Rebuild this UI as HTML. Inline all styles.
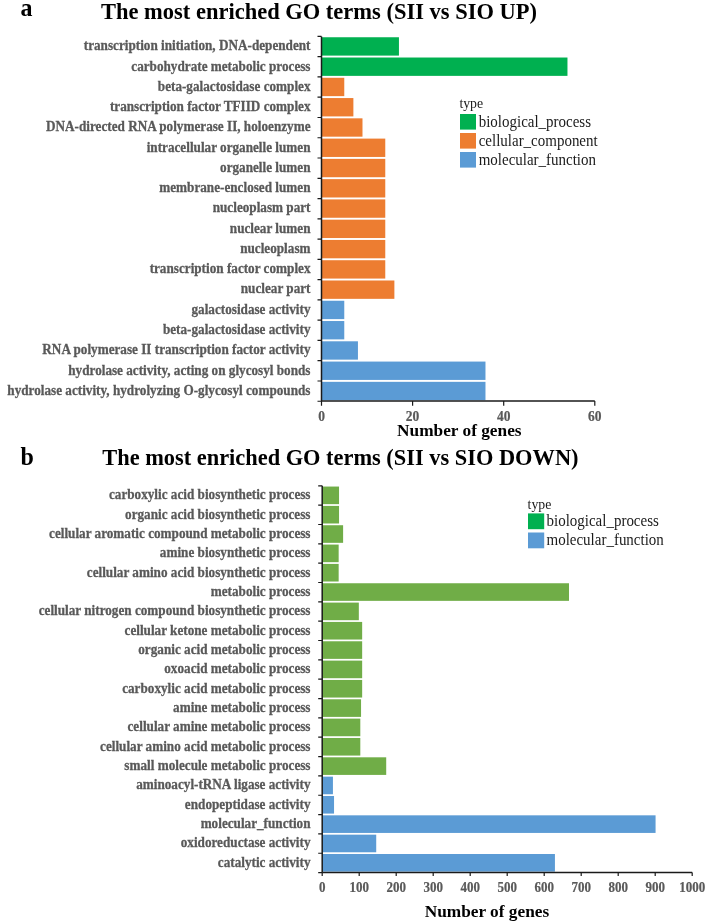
<!DOCTYPE html>
<html><head><meta charset="utf-8"><style>
html,body{margin:0;padding:0;background:#fff;}
body{width:710px;height:924px;overflow:hidden;}
svg{display:block;will-change:transform;}
text{font-family:"Liberation Serif",serif;}
.yl{font-size:13.2px;font-weight:bold;fill:#595959;text-anchor:end;stroke:#595959;stroke-width:0.25px;}
.xl{font-weight:bold;fill:#595959;text-anchor:middle;stroke:#595959;stroke-width:0.2px;}
.ttl{font-weight:bold;fill:#000;}
.lg{font-size:15px;fill:#1a1a1a;}
</style></head><body>
<svg width="710" height="924" viewBox="0 0 710 924">
<rect width="710" height="924" fill="#fff"/>
<text transform="translate(20.5 15.6) scale(1 1.08)" class="ttl" style="font-size:24px">a</text>
<text transform="translate(101 18.6) scale(1 1.03)" class="ttl" style="font-size:22.5px">The most enriched GO terms (SII vs SIO UP)</text>
<text transform="translate(20.5 464.8) scale(1 1.05)" class="ttl" style="font-size:24px">b</text>
<text transform="translate(102.3 465.3) scale(1 1.03)" class="ttl" style="font-size:22.4px">The most enriched GO terms (SII vs SIO DOWN)</text>
<rect x="321.5" y="37.25" width="77.44" height="18.35" fill="#00B050"/>
<rect x="321.5" y="57.52" width="245.97" height="18.35" fill="#00B050"/>
<rect x="321.5" y="77.79" width="22.77" height="18.35" fill="#ED7D31"/>
<rect x="321.5" y="98.06" width="31.88" height="18.35" fill="#ED7D31"/>
<rect x="321.5" y="118.33" width="40.99" height="18.35" fill="#ED7D31"/>
<rect x="321.5" y="138.6" width="63.77" height="18.35" fill="#ED7D31"/>
<rect x="321.5" y="158.87" width="63.77" height="18.35" fill="#ED7D31"/>
<rect x="321.5" y="179.14" width="63.77" height="18.35" fill="#ED7D31"/>
<rect x="321.5" y="199.41" width="63.77" height="18.35" fill="#ED7D31"/>
<rect x="321.5" y="219.68" width="63.77" height="18.35" fill="#ED7D31"/>
<rect x="321.5" y="239.95" width="63.77" height="18.35" fill="#ED7D31"/>
<rect x="321.5" y="260.22" width="63.77" height="18.35" fill="#ED7D31"/>
<rect x="321.5" y="280.49" width="72.88" height="18.35" fill="#ED7D31"/>
<rect x="321.5" y="300.76" width="22.77" height="18.35" fill="#5B9BD5"/>
<rect x="321.5" y="321.03" width="22.77" height="18.35" fill="#5B9BD5"/>
<rect x="321.5" y="341.3" width="36.44" height="18.35" fill="#5B9BD5"/>
<rect x="321.5" y="361.57" width="163.98" height="18.35" fill="#5B9BD5"/>
<rect x="321.5" y="381.84" width="163.98" height="18.35" fill="#5B9BD5"/>
<text transform="translate(310.5 50.23) scale(1 1.1)" class="yl">transcription initiation, DNA-dependent</text>
<text transform="translate(310.5 70.51) scale(1 1.1)" class="yl">carbohydrate metabolic process</text>
<text transform="translate(310.5 90.77) scale(1 1.1)" class="yl">beta-galactosidase complex</text>
<text transform="translate(310.5 111.05) scale(1 1.1)" class="yl">transcription factor TFIID complex</text>
<text transform="translate(310.5 131.31) scale(1 1.1)" class="yl">DNA-directed RNA polymerase II, holoenzyme</text>
<text transform="translate(310.5 151.58) scale(1 1.1)" class="yl">intracellular organelle lumen</text>
<text transform="translate(310.5 171.85) scale(1 1.1)" class="yl">organelle lumen</text>
<text transform="translate(310.5 192.12) scale(1 1.1)" class="yl">membrane-enclosed lumen</text>
<text transform="translate(310.5 212.39) scale(1 1.1)" class="yl">nucleoplasm part</text>
<text transform="translate(310.5 232.66) scale(1 1.1)" class="yl">nuclear lumen</text>
<text transform="translate(310.5 252.94) scale(1 1.1)" class="yl">nucleoplasm</text>
<text transform="translate(310.5 273.2) scale(1 1.1)" class="yl">transcription factor complex</text>
<text transform="translate(310.5 293.47) scale(1 1.1)" class="yl">nuclear part</text>
<text transform="translate(310.5 313.74) scale(1 1.1)" class="yl">galactosidase activity</text>
<text transform="translate(310.5 334.01) scale(1 1.1)" class="yl">beta-galactosidase activity</text>
<text transform="translate(310.5 354.28) scale(1 1.1)" class="yl">RNA polymerase II transcription factor activity</text>
<text transform="translate(310.5 374.55) scale(1 1.1)" class="yl">hydrolase activity, acting on glycosyl bonds</text>
<text transform="translate(310.5 394.82) scale(1 1.1)" class="yl">hydrolase activity, hydrolyzing O-glycosyl compounds</text>
<path d="M321.5 36.4V401" stroke="#1a1a1a" stroke-width="1.5" fill="none"/>
<path d="M317.5 36.4H321.5M317.5 56.67H321.5M317.5 76.94H321.5M317.5 97.21H321.5M317.5 117.48H321.5M317.5 137.75H321.5M317.5 158.02H321.5M317.5 178.29H321.5M317.5 198.56H321.5M317.5 218.83H321.5M317.5 239.1H321.5M317.5 259.37H321.5M317.5 279.64H321.5M317.5 299.91H321.5M317.5 320.18H321.5M317.5 340.45H321.5M317.5 360.72H321.5M317.5 380.99H321.5M317.5 401.26H321.5" stroke="#1a1a1a" stroke-width="1.2" fill="none"/>
<path d="M321.5 401H594.8" stroke="#1a1a1a" stroke-width="1.5" fill="none"/>
<path d="M321.5 401V405.7M412.6 401V405.7M503.7 401V405.7M594.8 401V405.7" stroke="#1a1a1a" stroke-width="1.2" fill="none"/>
<text transform="translate(321.5 421) scale(1 1.15)" class="xl" style="font-size:13.5px">0</text>
<text transform="translate(412.6 421) scale(1 1.15)" class="xl" style="font-size:13.5px">20</text>
<text transform="translate(503.7 421) scale(1 1.15)" class="xl" style="font-size:13.5px">40</text>
<text transform="translate(594.8 421) scale(1 1.15)" class="xl" style="font-size:13.5px">60</text>
<rect x="322.2" y="486.55" width="16.84" height="17.6" fill="#70AD47"/>
<rect x="322.2" y="505.89" width="16.84" height="17.6" fill="#70AD47"/>
<rect x="322.2" y="525.23" width="20.91" height="17.6" fill="#70AD47"/>
<rect x="322.2" y="544.57" width="16.46" height="17.6" fill="#70AD47"/>
<rect x="322.2" y="563.91" width="16.46" height="17.6" fill="#70AD47"/>
<rect x="322.2" y="583.25" width="246.79" height="17.6" fill="#70AD47"/>
<rect x="322.2" y="602.59" width="36.63" height="17.6" fill="#70AD47"/>
<rect x="322.2" y="621.93" width="39.96" height="17.6" fill="#70AD47"/>
<rect x="322.2" y="641.27" width="39.96" height="17.6" fill="#70AD47"/>
<rect x="322.2" y="660.61" width="39.96" height="17.6" fill="#70AD47"/>
<rect x="322.2" y="679.95" width="39.96" height="17.6" fill="#70AD47"/>
<rect x="322.2" y="699.29" width="38.85" height="17.6" fill="#70AD47"/>
<rect x="322.2" y="718.63" width="38.11" height="17.6" fill="#70AD47"/>
<rect x="322.2" y="737.97" width="38.11" height="17.6" fill="#70AD47"/>
<rect x="322.2" y="757.31" width="64.01" height="17.6" fill="#70AD47"/>
<rect x="322.2" y="776.65" width="10.73" height="17.6" fill="#5B9BD5"/>
<rect x="322.2" y="795.99" width="11.84" height="17.6" fill="#5B9BD5"/>
<rect x="322.2" y="815.33" width="333.37" height="17.6" fill="#5B9BD5"/>
<rect x="322.2" y="834.67" width="54.02" height="17.6" fill="#5B9BD5"/>
<rect x="322.2" y="854.01" width="232.73" height="17.6" fill="#5B9BD5"/>
<text transform="translate(310.5 499.27) scale(1 1.1)" class="yl">carboxylic acid biosynthetic process</text>
<text transform="translate(310.5 518.61) scale(1 1.1)" class="yl">organic acid biosynthetic process</text>
<text transform="translate(310.5 537.95) scale(1 1.1)" class="yl">cellular aromatic compound metabolic process</text>
<text transform="translate(310.5 557.29) scale(1 1.1)" class="yl">amine biosynthetic process</text>
<text transform="translate(310.5 576.63) scale(1 1.1)" class="yl">cellular amino acid biosynthetic process</text>
<text transform="translate(310.5 595.97) scale(1 1.1)" class="yl">metabolic process</text>
<text transform="translate(310.5 615.31) scale(1 1.1)" class="yl">cellular nitrogen compound biosynthetic process</text>
<text transform="translate(310.5 634.65) scale(1 1.1)" class="yl">cellular ketone metabolic process</text>
<text transform="translate(310.5 653.99) scale(1 1.1)" class="yl">organic acid metabolic process</text>
<text transform="translate(310.5 673.33) scale(1 1.1)" class="yl">oxoacid metabolic process</text>
<text transform="translate(310.5 692.67) scale(1 1.1)" class="yl">carboxylic acid metabolic process</text>
<text transform="translate(310.5 712.01) scale(1 1.1)" class="yl">amine metabolic process</text>
<text transform="translate(310.5 731.35) scale(1 1.1)" class="yl">cellular amine metabolic process</text>
<text transform="translate(310.5 750.69) scale(1 1.1)" class="yl">cellular amino acid metabolic process</text>
<text transform="translate(310.5 770.03) scale(1 1.1)" class="yl">small molecule metabolic process</text>
<text transform="translate(310.5 789.37) scale(1 1.1)" class="yl">aminoacyl-tRNA ligase activity</text>
<text transform="translate(310.5 808.71) scale(1 1.1)" class="yl">endopeptidase activity</text>
<text transform="translate(310.5 828.05) scale(1 1.1)" class="yl">molecular_function</text>
<text transform="translate(310.5 847.39) scale(1 1.1)" class="yl">oxidoreductase activity</text>
<text transform="translate(310.5 866.73) scale(1 1.1)" class="yl">catalytic activity</text>
<path d="M322.2 485.8V872.5" stroke="#1a1a1a" stroke-width="1.5" fill="none"/>
<path d="M318.2 485.8H322.2M318.2 505.14H322.2M318.2 524.48H322.2M318.2 543.82H322.2M318.2 563.16H322.2M318.2 582.5H322.2M318.2 601.84H322.2M318.2 621.18H322.2M318.2 640.52H322.2M318.2 659.86H322.2M318.2 679.2H322.2M318.2 698.54H322.2M318.2 717.88H322.2M318.2 737.22H322.2M318.2 756.56H322.2M318.2 775.9H322.2M318.2 795.24H322.2M318.2 814.58H322.2M318.2 833.92H322.2M318.2 853.26H322.2M318.2 872.6H322.2" stroke="#1a1a1a" stroke-width="1.2" fill="none"/>
<path d="M322.2 872.5H692.2" stroke="#1a1a1a" stroke-width="1.5" fill="none"/>
<path d="M322.2 872.5V876.1M359.2 872.5V876.1M396.2 872.5V876.1M433.2 872.5V876.1M470.2 872.5V876.1M507.2 872.5V876.1M544.2 872.5V876.1M581.2 872.5V876.1M618.2 872.5V876.1M655.2 872.5V876.1M692.2 872.5V876.1" stroke="#1a1a1a" stroke-width="1.2" fill="none"/>
<text transform="translate(322.2 892) scale(1 1.15)" class="xl" style="font-size:13px">0</text>
<text transform="translate(359.2 892) scale(1 1.15)" class="xl" style="font-size:13px">100</text>
<text transform="translate(396.2 892) scale(1 1.15)" class="xl" style="font-size:13px">200</text>
<text transform="translate(433.2 892) scale(1 1.15)" class="xl" style="font-size:13px">300</text>
<text transform="translate(470.2 892) scale(1 1.15)" class="xl" style="font-size:13px">400</text>
<text transform="translate(507.2 892) scale(1 1.15)" class="xl" style="font-size:13px">500</text>
<text transform="translate(544.2 892) scale(1 1.15)" class="xl" style="font-size:13px">600</text>
<text transform="translate(581.2 892) scale(1 1.15)" class="xl" style="font-size:13px">700</text>
<text transform="translate(618.2 892) scale(1 1.15)" class="xl" style="font-size:13px">800</text>
<text transform="translate(655.2 892) scale(1 1.15)" class="xl" style="font-size:13px">900</text>
<text transform="translate(692.2 892) scale(1 1.15)" class="xl" style="font-size:13px">1000</text>
<text x="459.3" y="435.7" class="ttl" style="font-size:17.3px;text-anchor:middle">Number of genes</text>
<text x="486.9" y="916.6" class="ttl" style="font-size:17.3px;text-anchor:middle">Number of genes</text>
<!-- legend a -->
<text x="459.4" y="108.3" class="lg" style="font-size:13.8px">type</text>
<rect x="460" y="114" width="16" height="15.6" fill="#00B050"/>
<rect x="460" y="133" width="16" height="15.6" fill="#ED7D31"/>
<rect x="460" y="152" width="16" height="15.6" fill="#5B9BD5"/>
<text transform="translate(478.7 126.5) scale(1 1.06)" class="lg">biological_process</text>
<text transform="translate(478.7 145.5) scale(1 1.06)" class="lg">cellular_component</text>
<text transform="translate(478.7 164.5) scale(1 1.06)" class="lg">molecular_function</text>
<!-- legend b -->
<text x="527.6" y="508.5" class="lg" style="font-size:13.8px">type</text>
<rect x="528" y="513.4" width="16.2" height="15.8" fill="#00B050"/>
<rect x="528" y="532.5" width="16.2" height="15.8" fill="#5B9BD5"/>
<text transform="translate(546.5 525.7) scale(1 1.06)" class="lg">biological_process</text>
<text transform="translate(546.5 544.8) scale(1 1.06)" class="lg">molecular_function</text>
</svg>
</body></html>
